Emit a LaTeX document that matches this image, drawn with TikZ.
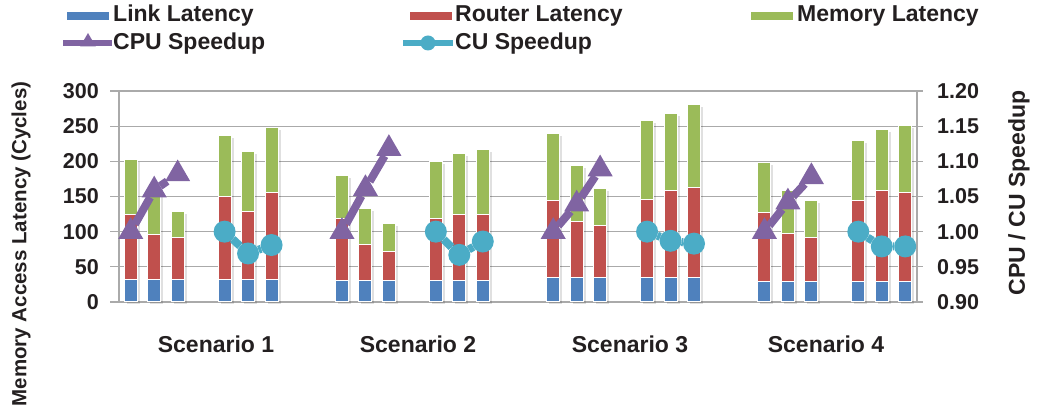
\documentclass[tikz,border=0pt]{standalone}
\usepackage{fontspec}
\setmainfont{Liberation Sans}
\usetikzlibrary{shapes.geometric}
\definecolor{linkblue}{RGB}{79,129,189}
\definecolor{routerred}{RGB}{192,80,77}
\definecolor{memgreen}{RGB}{155,187,89}
\definecolor{cpupurple}{RGB}{128,100,162}
\definecolor{cuteal}{RGB}{75,172,198}
\definecolor{gridgray}{RGB}{170,170,170}
\definecolor{txt}{RGB}{35,31,32}

\tikzset{
    gridline/.style={draw=gridgray, line width=1.3pt},
    barseg/.style={draw=white, line width=1pt},
    barshadow/.style={fill=black, opacity=0.12},
    ticklabel/.style={text=txt, inner sep=0pt, font=\bfseries\fontsize{21.5}{24}\selectfont},
    legendtext/.style={text=txt, inner sep=0pt, anchor=base west, font=\bfseries\fontsize{23}{26}\selectfont},
    titletext/.style={text=txt, inner sep=0pt, rotate=90, font=\bfseries\fontsize{20.5}{24}\selectfont},
    swatch/.style={inner sep=0pt, minimum width=42pt, minimum height=8pt},
    cpumark/.style={regular polygon, regular polygon sides=3, fill=cpupurple, inner sep=0pt, outer sep=0pt, minimum size=29pt},
    cumark/.style={circle, fill=cuteal, inner sep=0pt, outer sep=0pt, minimum size=22pt},
    cpuline/.style={draw=cpupurple, line width=8pt},
    culine/.style={draw=cuteal, line width=8pt}
}

\begin{document}
\begin{tikzpicture}[x=1pt, y=1pt]
    \useasboundingbox (0,0) rectangle (1038,407);

    %% grid, ticks and both axes
    \foreach \v/\r in {0/0.90,50/0.95,100/1.00,150/1.05,200/1.10,250/1.15,300/1.20} {
        \draw[gridline] (110,105+\v*0.7033) -- (923,105+\v*0.7033);
        \node[ticklabel, anchor=east] (lt-\v) at (99,105+\v*0.7033) {\v};
        \node[ticklabel, anchor=west] (rt-\v) at (937,105+\v*0.7033) {\r};
    }
    \draw[gridline] (119,105) -- (119,316);
    \draw[gridline] (917,105) -- (917,316);

    %% stacked bars: slot / link top / router top / memory top
    \foreach \k/\b/\r/\g in {0/32/125/203, 1/32/96/155, 2/32/91/129,
                             4/32/150/237, 5/32/129/214, 6/32/156/248,
                             9/30/119/180, 10/30/82/133, 11/30/72/111,
                             13/30/119/200, 14/30/125/211, 15/30/124/217,
                             18/35/144/239, 19/35/115/194, 20/35/109/161,
                             22/35/146/258, 23/35/159/268, 24/35/163/281,
                             27/29/127/199, 28/29/98/159, 29/29/91/144,
                             31/29/145/229, 32/29/158/245, 33/29/155/251} {
        \pgfmathsetmacro\xl{119+(\k+0.5)*23.47-6.5}
        \pgfmathsetmacro\xr{\xl+13}
        \fill[barshadow] (\xl+2.5,102.5) rectangle (\xr+2.5,102.5+\g*0.7033);
        \draw[barseg, fill=linkblue] (\xl,105) rectangle (\xr,105+\b*0.7033);
        \draw[barseg, fill=routerred] (\xl,105+\b*0.7033) rectangle (\xr,105+\r*0.7033);
        \draw[barseg, fill=memgreen] (\xl,105+\r*0.7033) rectangle (\xr,105+\g*0.7033);
    }

    %% speedup series, one scenario at a time
    \foreach \s/\pa/\pb/\pc/\ua/\ub/\uc in {0/1.000/1.059/1.082/1.000/0.969/0.981,
                                           1/1.000/1.061/1.118/1.000/0.967/0.986,
                                           2/1.000/1.039/1.089/1.000/0.987/0.983,
                                           3/1.000/1.042/1.078/1.000/0.979/0.979} {
        \pgfmathsetmacro\xa{119+(9*\s+0.5)*23.47}
        \node[cpumark] (cpu-\s-a) at ({\xa},{105+(\pa-0.9)*703.33}) {};
        \node[cpumark] (cpu-\s-b) at ({\xa+23.47},{105+(\pb-0.9)*703.33}) {};
        \node[cpumark] (cpu-\s-c) at ({\xa+46.94},{105+(\pc-0.9)*703.33}) {};
        \node[cumark] (cu-\s-a) at ({\xa+93.88},{105+(\ua-0.9)*703.33}) {};
        \node[cumark] (cu-\s-b) at ({\xa+117.35},{105+(\ub-0.9)*703.33}) {};
        \node[cumark] (cu-\s-c) at ({\xa+140.82},{105+(\uc-0.9)*703.33}) {};
        \draw[cpuline] (cpu-\s-a) -- (cpu-\s-b) -- (cpu-\s-c);
        \draw[culine] (cu-\s-a) -- (cu-\s-b) -- (cu-\s-c);
    }

    %% scenario names
    \foreach \n/\x in {1/216, 2/418, 3/630, 4/826} {
        \node[legendtext, anchor=base] (scen-\n) at (\x,55) {Scenario \n};
    }

    %% axis titles
    \node[titletext] (ytitle) at (21,163) {Memory Access Latency (Cycles)};
    \node[titletext, font=\bfseries\fontsize{23}{26}\selectfont] (y2title) at (1019,214) {CPU / CU Speedup};

    %% legend
    \node[swatch, fill=linkblue] (leg-link) at (88,391) {};
    \node[legendtext] (leg-link-t) at (113,385) {Link Latency};
    \node[swatch, fill=routerred] (leg-router) at (431,391) {};
    \node[legendtext] (leg-router-t) at (455,385) {Router Latency};
    \node[swatch, fill=memgreen] (leg-mem) at (772,391) {};
    \node[legendtext] (leg-mem-t) at (797,385) {Memory Latency};
    \coordinate (leg-cpu-w) at (63,364);
    \coordinate (leg-cpu-e) at (112,364);
    \draw[cpuline, line width=6pt] (leg-cpu-w) -- (leg-cpu-e);
    \node[cpumark, minimum size=18pt] (leg-cpu) at (88,365) {};
    \node[legendtext] (leg-cpu-t) at (113,357) {CPU Speedup};
    \coordinate (leg-cu-w) at (403,364);
    \coordinate (leg-cu-e) at (453,364);
    \draw[culine, line width=6pt] (leg-cu-w) -- (leg-cu-e);
    \node[cumark, minimum size=15pt] (leg-cu) at (428,364) {};
    \node[legendtext] (leg-cu-t) at (455,357) {CU Speedup};
\end{tikzpicture}
\end{document}
